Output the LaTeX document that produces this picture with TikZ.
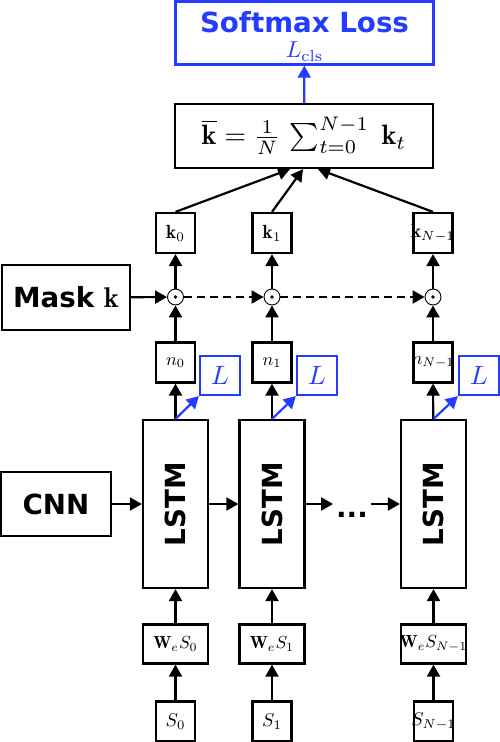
\documentclass[tikz,border=0pt]{standalone}
\usepackage{amssymb, amsmath}
\usepackage{fontspec}
\setsansfont{DejaVu Sans}
\usetikzlibrary{arrows.meta,positioning}
\definecolor{lossblue}{RGB}{35,60,255}
\newcommand{\scaledmath}[2]{{\normalsize\scalebox{#1}{$#2$}}}

\begin{document}
\begin{tikzpicture}[x=1pt,y=-1pt,line width=2.2pt]
\tikzstyle{every path}=[line width=2.2pt];
\tikzstyle{box}=[rectangle,draw,line width=2.2pt,inner sep=0pt];
\tikzstyle{big}=[font=\fontsize{27.7}{30}\selectfont\sffamily\bfseries];
\tikzstyle{sq}=[box,minimum width=39pt,minimum height=40pt];
\tikzstyle{wide}=[box,minimum width=65pt,minimum height=39pt];
\tikzstyle{lstm}=[box,big,minimum width=65pt,minimum height=168pt];
\tikzstyle{prod}=[circle,draw,line width=0.9pt,minimum size=16pt,inner sep=0pt];
\tikzstyle{loss}=[box,draw=lossblue,text=lossblue];
\tikzstyle{arr}=[line width=2.2pt,-{Triangle[length=12pt,width=13pt]}];
\useasboundingbox (0,0) rectangle (499,742);
% top
\node[loss,minimum width=258pt,minimum height=63pt,align=center,font=\fontsize{27.7}{25.5}\selectfont] (softmax) at (304.5,33)
  {\rule{0pt}{28pt}{\sffamily\bfseries Softmax Loss}\\\scaledmath{2.3}{L_{\mathrm{cls}}}};
\node[box,minimum width=258pt,minimum height=64pt] (mean) at (304,136)
  {\scaledmath{2.8}{\overline{\mathbf{k}} = \frac{1}{N}\,\sum_{t=0}^{N-1}\;\mathbf{k}_t}};
\node[sq] (k0) at (175.5,233) {\scaledmath{1.9}{\mathbf{k}_0}};
\node[sq] (k1) at (272,233) {\scaledmath{1.9}{\mathbf{k}_1}};
\node[sq] (kN) at (433,233) {\makebox[0pt]{\scaledmath{1.9}{\mathbf{k}_{N-1}}}};
% mask
\node[box,big,minimum width=128pt,minimum height=65pt] (mask) at (66,297.5) {Mask \scaledmath{2.85}{\mathbf{k}}};
\node[prod] (o0) at (175.5,297) {};
\node[prod] (o1) at (272,297) {};
\node[prod] (oN) at (433,297) {};
\fill (o0) circle (1.8);
\fill (o1) circle (1.8);
\fill (oN) circle (1.8);
\node[sq] (n0) at (175.5,362.5) {\scaledmath{1.8}{n_0}};
\node[sq] (n1) at (272,362.5) {\scaledmath{1.8}{n_1}};
\node[sq] (nN) at (433,362.5) {\makebox[0pt]{\scaledmath{1.8}{n_{N-1}}}};
\node[loss,minimum width=40pt,minimum height=39pt] (L0) at (220,375.5) {\scaledmath{2.65}{L}};
\node[loss,minimum width=40pt,minimum height=39pt] (L1) at (317,375.5) {\scaledmath{2.65}{L}};
\node[loss,minimum width=40pt,minimum height=39pt] (LN) at (479,375.5) {\scaledmath{2.65}{L}};
% recurrent part
\node[box,big,minimum width=110pt,minimum height=64pt] (cnn) at (56,504) {CNN};
\node[lstm] (lstm0) at (175.5,504) {\rotatebox{90}{LSTM}};
\node[lstm] (lstm1) at (272,504) {\rotatebox{90}{LSTM}};
\node[lstm] (lstmN) at (433.5,504) {\rotatebox{90}{LSTM}};
\node[big,anchor=base,inner xsep=2pt,inner ysep=0pt] (dots) at (352,517) {...};
\node[wide] (w0) at (175.5,644) {\scaledmath{1.75}{\mathbf{W}_e S_0}};
\node[wide] (w1) at (272,644) {\scaledmath{1.75}{\mathbf{W}_e S_1}};
\node[wide] (wN) at (433.5,644) {\makebox[0pt]{\scaledmath{1.75}{\mathbf{W}_e S_{N-1}}}};
\node[sq] (s0) at (175.5,721.5) {\scaledmath{1.85}{S_0}};
\node[sq] (s1) at (272,721.5) {\scaledmath{1.85}{S_1}};
\node[sq] (sN) at (433.5,721.5) {\makebox[0pt]{\scaledmath{1.85}{S_{N-1}}}};
% arrows
\draw[arr,lossblue] (mean) -- (softmax);
\draw[arr] (k0.north) -- ([xshift=-14pt]mean.south);
\draw[arr] (k1.north) -- ([xshift=-1pt]mean.south);
\draw[arr] (kN.north) -- ([xshift=14pt]mean.south);
\draw[arr] (o0) -- (k0);
\draw[arr] (o1) -- (k1);
\draw[arr] (oN) -- (kN);
\draw[arr] (mask) -- (o0);
\draw[arr,dash pattern=on 8pt off 5pt] (o0) -- (o1);
\draw[arr,dash pattern=on 8pt off 5pt] (o1) -- (oN);
\draw[arr] (n0) -- (o0);
\draw[arr] (n1) -- (o1);
\draw[arr] (nN) -- (oN);
\draw[arr] (lstm0) -- (n0);
\draw[arr] (lstm1) -- (n1);
\draw[arr] (lstmN) -- (nN);
\draw[arr,lossblue] (lstm0.north) -- (L0.south west);
\draw[arr,lossblue] (lstm1.north) -- (L1.south west);
\draw[arr,lossblue] (lstmN.north) -- (LN.south west);
\draw[arr] (cnn) -- (lstm0);
\draw[arr] (lstm0) -- (lstm1);
\draw[arr] (lstm1.east) -- (lstm1.east -| dots.west);
\draw[arr] (dots.east |- lstmN.west) -- (lstmN.west);
\draw[arr] (w0) -- (lstm0);
\draw[arr] (w1) -- (lstm1);
\draw[arr] (wN) -- (lstmN);
\draw[arr] (s0) -- (w0);
\draw[arr] (s1) -- (w1);
\draw[arr] (sN) -- (wN);
\end{tikzpicture}
\end{document}
